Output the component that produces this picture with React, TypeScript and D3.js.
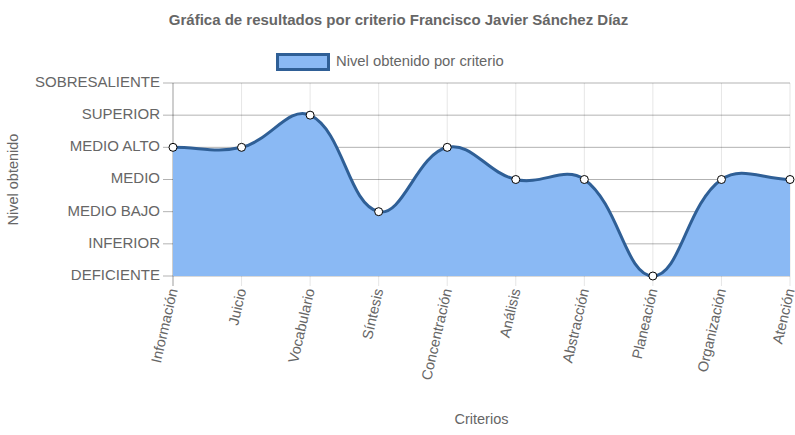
import React from "react";
import * as d3 from "d3";

const title = "Gráfica de resultados por criterio Francisco Javier Sánchez Díaz";
const seriesName = "Nivel obtenido por criterio";
const categories = ["Información", "Juicio", "Vocabulario", "Síntesis", "Concentración", "Análisis", "Abstracción", "Planeación", "Organización", "Atención"];
const levels = ["DEFICIENTE", "INFERIOR", "MEDIO BAJO", "MEDIO", "MEDIO ALTO", "SUPERIOR", "SOBRESALIENTE"];
const values = ["MEDIO ALTO", "MEDIO ALTO", "SUPERIOR", "MEDIO BAJO", "MEDIO ALTO", "MEDIO", "MEDIO", "DEFICIENTE", "MEDIO", "MEDIO"];
const xTitle = "Criterios";
const yTitle = "Nivel obtenido";

const W = 795, H = 435;
const area = { left: 173, right: 790, top: 83, bottom: 276 };
const FONT = "'Liberation Sans', Arial, Helvetica, sans-serif";
const TXT = "#666";

type P = { x: number; y: number; cpx1?: number; cpy1?: number; cpx2?: number; cpy2?: number };

function buildPath(pts: P[], tension: number) {
  const cap = (v: number, lo: number, hi: number) => Math.max(lo, Math.min(hi, v));
  pts.forEach((p, i) => {
    const prev = i > 0 ? pts[i - 1] : p;
    const next = i < pts.length - 1 ? pts[i + 1] : p;
    const d01 = Math.hypot(p.x - prev.x, p.y - prev.y);
    const d12 = Math.hypot(next.x - p.x, next.y - p.y);
    let s01 = d01 / (d01 + d12);
    let s12 = d12 / (d01 + d12);
    if (isNaN(s01)) s01 = 0;
    if (isNaN(s12)) s12 = 0;
    const fa = tension * s01, fb = tension * s12;
    p.cpx1 = cap(p.x - fa * (next.x - prev.x), area.left, area.right);
    p.cpy1 = cap(p.y - fa * (next.y - prev.y), area.top, area.bottom);
    p.cpx2 = cap(p.x + fb * (next.x - prev.x), area.left, area.right);
    p.cpy2 = cap(p.y + fb * (next.y - prev.y), area.top, area.bottom);
  });
  let d = `M${pts[0].x},${pts[0].y}`;
  for (let i = 1; i < pts.length; i++) {
    const a = pts[i - 1], b = pts[i];
    d += `C${a.cpx2},${a.cpy2},${b.cpx1},${b.cpy1},${b.x},${b.y}`;
  }
  return d;
}

export default function App() {
  const x = d3.scalePoint<string>().domain(categories).range([area.left, area.right]);
  const y = d3.scalePoint<string>().domain(levels).range([area.bottom, area.top]);
  const pts: P[] = categories.map((c, i) => ({ x: x(c)!, y: y(values[i])! }));
  const line = buildPath(pts, 0.4);
  const last = pts[pts.length - 1];
  const fill = `${line}L${last.x},${area.bottom}L${pts[0].x},${area.bottom}Z`;
  const rot = -77;

  return (
    <svg width={W} height={H} style={{ position: "absolute", left: 0, top: 0, background: "#fff" }}>
      <text x={W / 2 + 1} y={21} textAnchor="middle" dominantBaseline="middle" fontFamily={FONT} fontSize={15} fontWeight="bold" fill={TXT}>{title}</text>
      {/* legend */}
      <rect x={277.5} y={54.5} width={51} height={15} fill="#8ab9f4" stroke="#2f5f96" strokeWidth={3} />
      <text x={336} y={62} dominantBaseline="middle" fontFamily={FONT} fontSize={14.8} fill={TXT}>{seriesName}</text>

      {/* vertical grid */}
      {categories.map((c) => (
        <line key={c} x1={x(c)} x2={x(c)} y1={area.top} y2={area.bottom + 10} stroke="rgba(0,0,0,0.1)" strokeWidth={1} />
      ))}
      {/* horizontal grid */}
      {levels.map((l) => (
        <line key={l} x1={area.left - 10} x2={area.right} y1={y(l)} y2={y(l)} stroke="rgba(0,0,0,0.3)" strokeWidth={1} />
      ))}
      <line x1={area.left} x2={area.left} y1={area.top} y2={area.bottom + 10} stroke="rgba(0,0,0,0.3)" />

      <path d={fill} fill="#8ab9f4" stroke="none" />
      <path d={line} fill="none" stroke="#2f5f96" strokeWidth={3} />
      {pts.map((p, i) => (
        <circle key={i} cx={p.x} cy={p.y} r={4} fill="#fff" stroke="#000" strokeWidth={1} />
      ))}

      {/* y labels */}
      {levels.map((l) => (
        <text key={l} x={area.left - 13} y={y(l)} textAnchor="end" dominantBaseline="middle" fontFamily={FONT} fontSize={15} fill={TXT}>{l}</text>
      ))}
      {/* x labels */}
      {categories.map((c) => (
        <text key={c} transform={`translate(${x(c)! + 1},${area.bottom + 13}) rotate(${rot})`} textAnchor="end" dominantBaseline="middle" fontFamily={FONT} fontSize={14.5} fill={TXT}>{c}</text>
      ))}
      <text transform={`translate(14,${(area.top + area.bottom) / 2}) rotate(-90)`} textAnchor="middle" dominantBaseline="middle" fontFamily={FONT} fontSize={14.5} fill={TXT}>{yTitle}</text>
      <text x={(area.left + area.right) / 2} y={420} textAnchor="middle" dominantBaseline="middle" fontFamily={FONT} fontSize={14.5} fill={TXT}>{xTitle}</text>
    </svg>
  );
}
